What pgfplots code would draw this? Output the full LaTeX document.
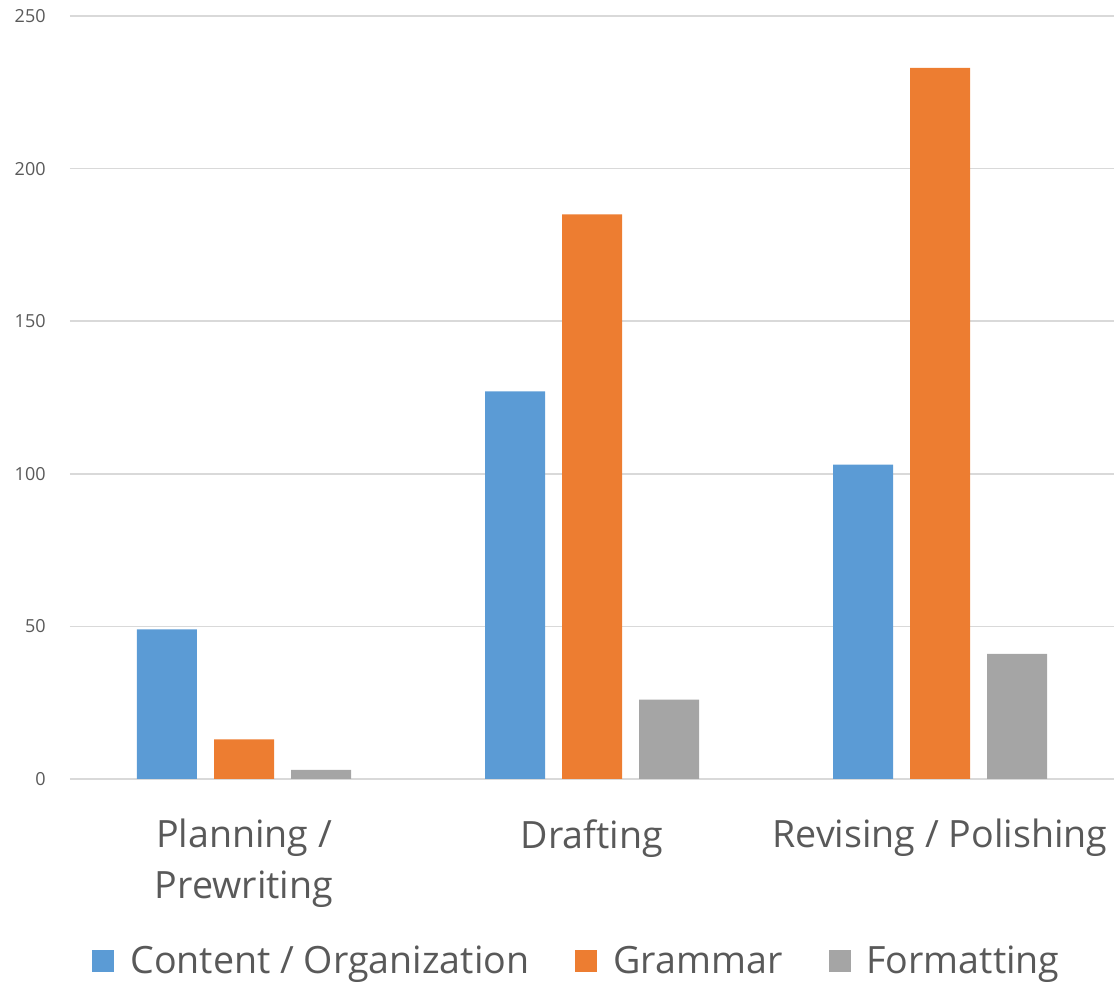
\documentclass[border=0pt]{standalone}
\usepackage{fontspec}
\setmainfont{Open Sans}
\usepackage{pgfplots}
\pgfplotsset{compat=1.18}
\definecolor{cblue}{HTML}{5B9BD5}
\definecolor{corange}{HTML}{ED7D31}
\definecolor{cgray}{HTML}{A5A5A5}
\definecolor{txt}{HTML}{595959}
\definecolor{gridc}{HTML}{D9D9D9}

\begin{document}
\begin{tikzpicture}
\begin{axis}[
  name=ax,
  scale only axis,
  width=522pt, height=381.5pt,
  ybar=8.5pt, bar width=30pt,
  xmin=-0.5, xmax=2.5,
  ymin=0, ymax=250,
  ytick={0,50,100,150,200,250},
  xtick={0,1,2},
  xticklabels={{Planning /\\Prewriting},{Drafting},{Revising / Polishing}},
  major tick length=0pt,
  axis line style={draw=none},
  ymajorgrids,
  grid style={gridc, line width=0.8pt},
  /pgf/number format/assume math mode=true,
  yticklabel style={font=\fontsize{9}{11}\selectfont, text=txt, inner sep=0pt, anchor=east, xshift=-12pt},
  xticklabel style={font=\fontsize{18.8}{25.5}\selectfont, text=txt, align=center, inner sep=0pt, anchor=north, yshift=-20pt},
  legend style={
    at={(254pt,-91pt)}, anchor=center,
    draw=none, fill=none,
    font=\fontsize{18.8}{24}\selectfont, text=txt,
    legend columns=3,
    /tikz/every even column/.append style={column sep=21pt},
    /tikz/every odd column/.append style={column sep=6pt},
    legend cell align=left,
  },
  legend image code/.code={\fill[#1] (0pt,-5.5pt) rectangle (11pt,5.5pt);},
]
\addplot[fill=cblue, draw=none] coordinates {(0,49) (1,127) (2,103)};
\addplot[fill=corange, draw=none] coordinates {(0,13) (1,185) (2,233)};
\addplot[fill=cgray, draw=none] coordinates {(0,3) (1,26) (2,41)};
\legend{Content / Organization, Grammar, Formatting}
\end{axis}
\pgfresetboundingbox
\path[use as bounding box] ([shift={(-35pt,-102.5pt)}]ax.south west) rectangle ([shift={(0pt,8pt)}]ax.north east);
\end{tikzpicture}
\end{document}
